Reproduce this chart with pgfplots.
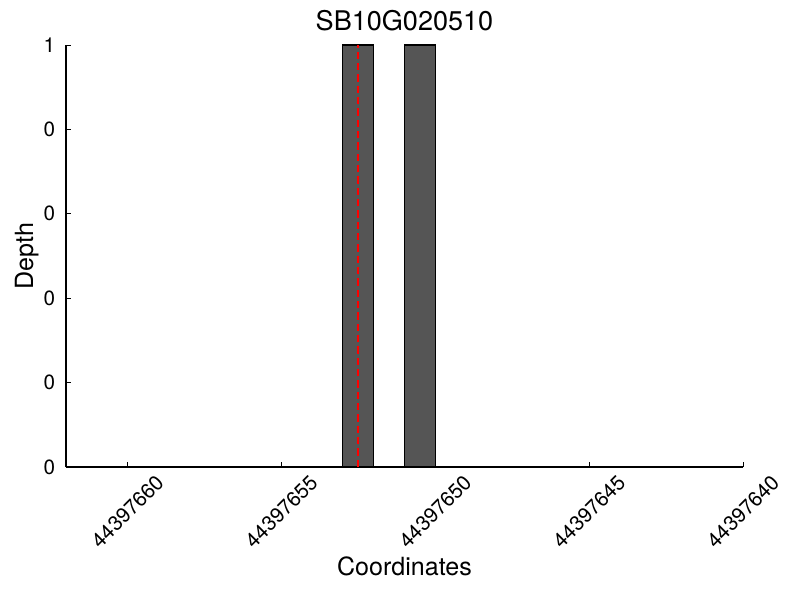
\documentclass[border=0pt]{standalone}
\usepackage{pgfplots}
\pgfplotsset{compat=1.18}
\usepackage{fontspec}
\setmainfont{TeX Gyre Heros}
\definecolor{bargray}{RGB}{85,85,85}
\begin{document}
\begin{tikzpicture}
\begin{axis}[
  scale only axis,
  width=507.75pt, height=316.5pt,
  xmin=40, xmax=62, x dir=reverse,
  ymin=0, ymax=1,
  axis x line*=bottom, axis y line*=left,
  axis line style={line width=0.8pt},
  tick align=inside,
  major tick length=4pt,
  tick style={black, line width=0.6pt},
  xtick={40,45,50,55,60},
  xticklabels={44397640,44397645,44397650,44397655,44397660},
  ytick={0,0.2,0.4,0.6,0.8,1},
  yticklabels={0,0,0,0,0,1},
  /pgf/number format/assume math mode=true,
  tick label style={font=\fontsize{15.5}{17}\selectfont},
  xticklabel style={yshift=-33.5pt, rotate=45, anchor=center, inner sep=0pt},
  yticklabel style={anchor=east, inner sep=0pt, xshift=-8pt},
  title={SB10G020510},
  title style={font=\fontsize{20.3}{22}\selectfont, at={(axis description cs:0.5,1)}, anchor=south, inner sep=0pt, yshift=4.5pt},
  xlabel={Coordinates},
  xlabel style={font=\fontsize{18.8}{20}\selectfont, at={(axis description cs:0.5,0)}, anchor=base, inner sep=0pt, yshift=-81pt},
  ylabel={Depth},
  ylabel style={font=\fontsize{18.8}{20}\selectfont, at={(axis description cs:-0.058,0.5)}, anchor=center, inner sep=0pt},
  clip=false,
]
\addplot[ybar, bar width=1, fill=bargray, draw=black, line width=0.8pt] coordinates {(52.5,1) (50.5,1)};
\addplot[red, line width=1.4pt, dash pattern=on 5.5pt off 3pt] coordinates {(52.5,0) (52.5,1)};
\end{axis}
\path (current axis.south west) ++(-49.5pt,-99.75pt) coordinate (bbA);
\path (current axis.north east) ++(42.75pt,33.75pt) coordinate (bbB);
\useasboundingbox (bbA) rectangle (bbB);
\end{tikzpicture}
\end{document}
